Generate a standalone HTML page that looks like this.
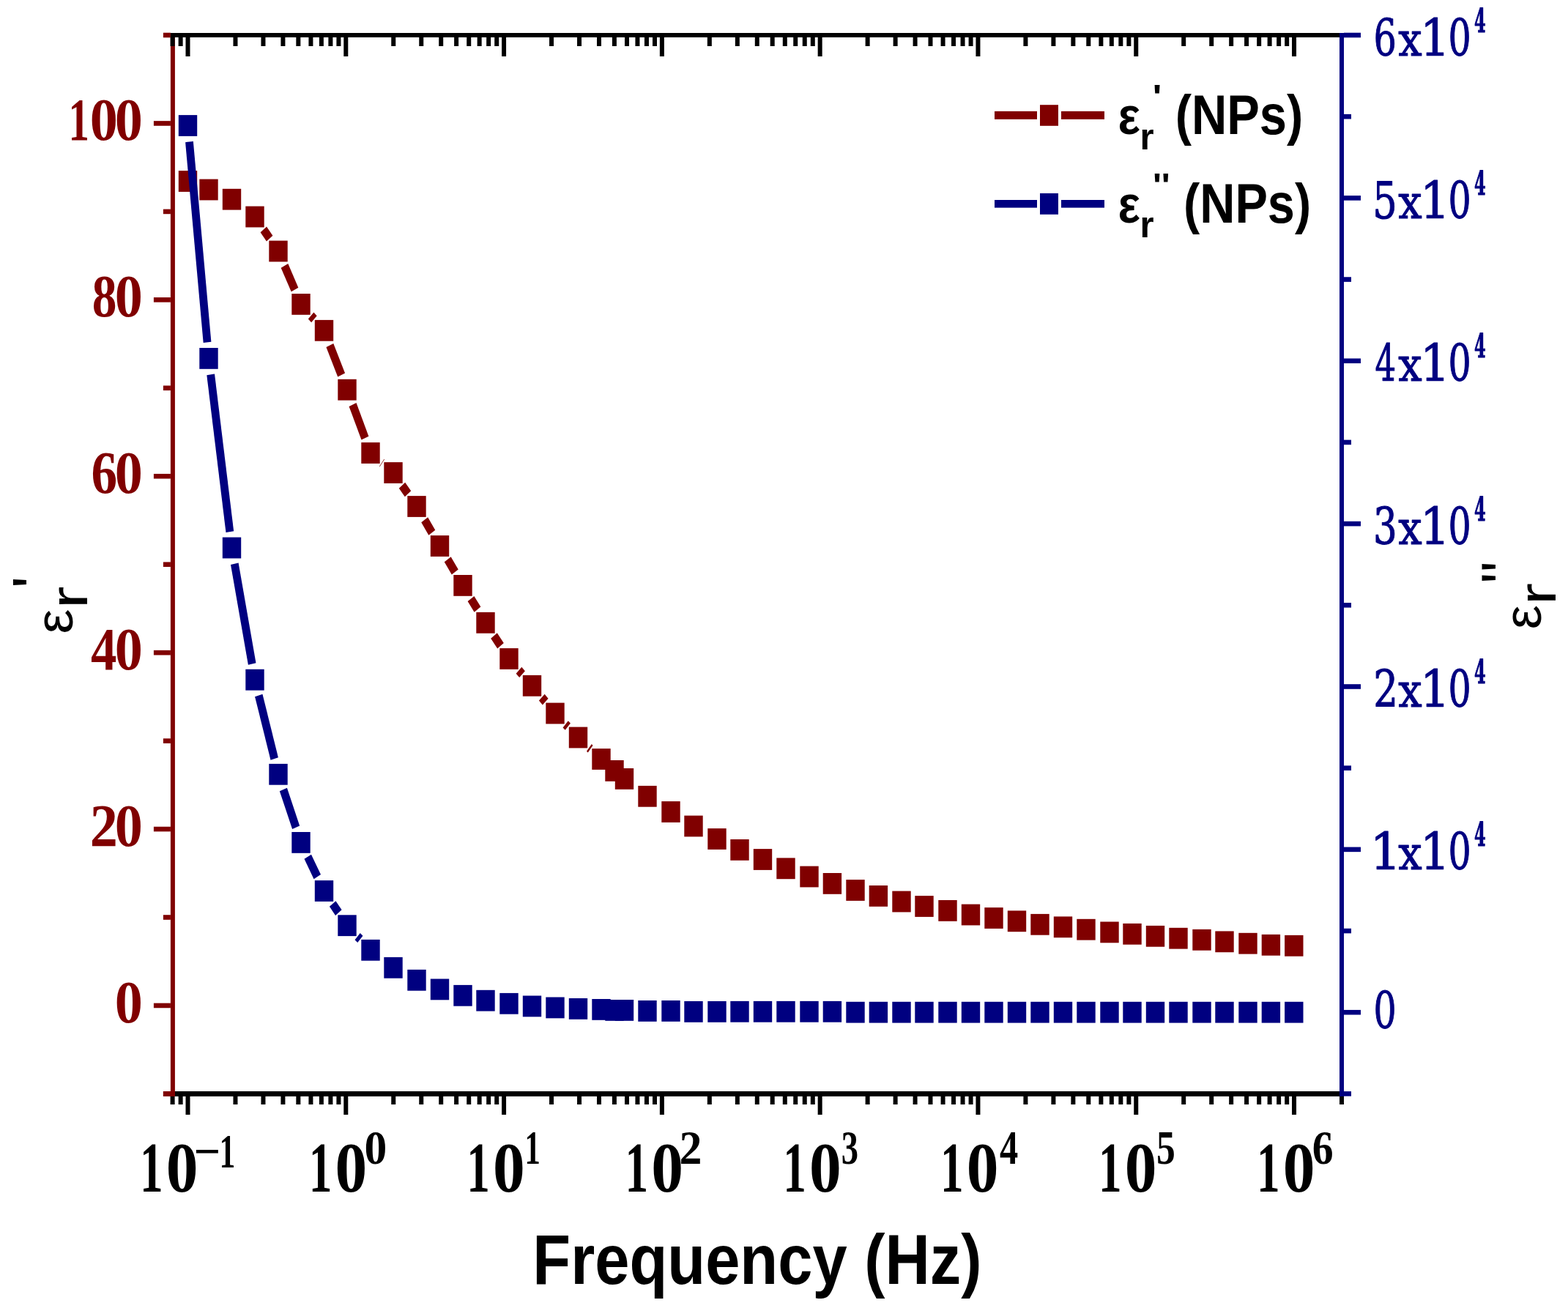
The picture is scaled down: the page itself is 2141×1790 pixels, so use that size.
<!DOCTYPE html>
<html><head><meta charset="utf-8"><title>Dielectric constant vs frequency</title>
<style>html,body{margin:0;padding:0;background:#fff;overflow:hidden;}svg{display:block;}</style></head>
<body>
<svg width="2141" height="1790" viewBox="0 0 2141 1790">
<rect x="0" y="0" width="2141" height="1790" fill="#fff"/>
<polygon points="355.60,317.27 363.92,329.50 372.40,321.73 364.08,309.50" fill="#800000"/>
<polygon points="383.66,365.63 397.67,398.34 407.34,392.77 393.33,360.06" fill="#800000"/>
<polygon points="420.84,435.40 425.09,440.24 432.66,431.30 428.41,426.46" fill="#800000"/>
<polygon points="445.44,474.07 461.22,514.59 471.06,509.43 455.28,468.91" fill="#800000"/>
<polygon points="476.59,555.03 493.49,600.62 503.41,595.67 486.51,550.08" fill="#800000"/>
<polygon points="518.03,636.81 518.48,637.21 524.97,627.19 524.52,626.79" fill="#800000"/>
<polygon points="544.79,666.68 552.80,678.19 561.21,670.32 553.20,658.81" fill="#800000"/>
<polygon points="575.23,713.36 585.32,730.66 594.27,723.64 584.18,706.34" fill="#800000"/>
<polygon points="606.75,767.35 616.81,784.58 625.75,777.55 615.69,760.32" fill="#800000"/>
<polygon points="638.61,821.11 647.57,835.82 656.39,828.59 647.43,813.88" fill="#800000"/>
<polygon points="670.19,871.76 679.19,885.59 687.81,878.04 678.81,864.21" fill="#800000"/>
<polygon points="704.63,919.64 709.21,924.99 716.87,916.16 712.29,910.81" fill="#800000"/>
<polygon points="735.92,956.57 740.83,962.45 748.58,953.73 743.67,947.85" fill="#800000"/>
<polygon points="768.56,993.50 771.71,996.80 778.94,987.50 775.79,984.20" fill="#800000"/>
<polygon points="800.97,1025.79 802.75,1027.46 809.53,1017.71 807.75,1016.04" fill="#800000"/>
<rect x="243.80" y="233.10" width="25.40" height="28.80" fill="#800000"/>
<rect x="272.30" y="244.60" width="25.40" height="28.80" fill="#800000"/>
<rect x="303.80" y="257.80" width="25.40" height="28.80" fill="#800000"/>
<rect x="335.30" y="281.60" width="25.40" height="28.80" fill="#800000"/>
<rect x="367.30" y="328.60" width="25.40" height="28.80" fill="#800000"/>
<rect x="398.30" y="401.00" width="25.40" height="28.80" fill="#800000"/>
<rect x="429.80" y="436.90" width="25.40" height="28.80" fill="#800000"/>
<rect x="461.30" y="517.80" width="25.40" height="28.80" fill="#800000"/>
<rect x="493.30" y="604.10" width="25.40" height="28.80" fill="#800000"/>
<rect x="524.30" y="631.10" width="25.40" height="28.80" fill="#800000"/>
<rect x="556.30" y="677.10" width="25.40" height="28.80" fill="#800000"/>
<rect x="587.80" y="731.10" width="25.40" height="28.80" fill="#800000"/>
<rect x="619.30" y="785.00" width="25.40" height="28.80" fill="#800000"/>
<rect x="650.30" y="835.90" width="25.40" height="28.80" fill="#800000"/>
<rect x="682.30" y="885.10" width="25.40" height="28.80" fill="#800000"/>
<rect x="713.80" y="921.90" width="25.40" height="28.80" fill="#800000"/>
<rect x="745.30" y="959.60" width="25.40" height="28.80" fill="#800000"/>
<rect x="776.80" y="992.60" width="25.40" height="28.80" fill="#800000"/>
<rect x="808.30" y="1022.10" width="25.40" height="28.80" fill="#800000"/>
<rect x="826.30" y="1038.00" width="25.40" height="28.80" fill="#800000"/>
<rect x="839.80" y="1049.00" width="25.40" height="28.80" fill="#800000"/>
<rect x="871.30" y="1072.90" width="25.40" height="28.80" fill="#800000"/>
<rect x="903.30" y="1094.10" width="25.40" height="28.80" fill="#800000"/>
<rect x="934.30" y="1113.60" width="25.40" height="28.80" fill="#800000"/>
<rect x="966.30" y="1131.10" width="25.40" height="28.80" fill="#800000"/>
<rect x="997.30" y="1146.00" width="25.40" height="28.80" fill="#800000"/>
<rect x="1028.80" y="1159.10" width="25.40" height="28.80" fill="#800000"/>
<rect x="1060.30" y="1171.40" width="25.40" height="28.80" fill="#800000"/>
<rect x="1092.30" y="1182.60" width="25.40" height="28.80" fill="#800000"/>
<rect x="1123.70" y="1192.00" width="25.40" height="28.80" fill="#800000"/>
<rect x="1155.30" y="1201.10" width="25.40" height="28.80" fill="#800000"/>
<rect x="1186.70" y="1209.00" width="25.40" height="28.80" fill="#800000"/>
<rect x="1218.30" y="1216.60" width="25.40" height="28.80" fill="#800000"/>
<rect x="1249.30" y="1223.10" width="25.40" height="28.80" fill="#800000"/>
<rect x="1281.30" y="1229.00" width="25.40" height="28.80" fill="#800000"/>
<rect x="1312.80" y="1234.60" width="25.40" height="28.80" fill="#800000"/>
<rect x="1344.30" y="1239.10" width="25.40" height="28.80" fill="#800000"/>
<rect x="1375.80" y="1243.40" width="25.40" height="28.80" fill="#800000"/>
<rect x="1407.30" y="1247.90" width="25.40" height="28.80" fill="#800000"/>
<rect x="1438.80" y="1251.40" width="25.40" height="28.80" fill="#800000"/>
<rect x="1470.30" y="1254.80" width="25.40" height="28.80" fill="#800000"/>
<rect x="1502.30" y="1258.50" width="25.40" height="28.80" fill="#800000"/>
<rect x="1533.30" y="1260.90" width="25.40" height="28.80" fill="#800000"/>
<rect x="1564.80" y="1263.90" width="25.40" height="28.80" fill="#800000"/>
<rect x="1596.30" y="1266.80" width="25.40" height="28.80" fill="#800000"/>
<rect x="1628.30" y="1268.90" width="25.40" height="28.80" fill="#800000"/>
<rect x="1659.30" y="1271.40" width="25.40" height="28.80" fill="#800000"/>
<rect x="1691.30" y="1273.80" width="25.40" height="28.80" fill="#800000"/>
<rect x="1722.70" y="1275.90" width="25.40" height="28.80" fill="#800000"/>
<rect x="1754.10" y="1276.90" width="25.40" height="28.80" fill="#800000"/>
<polygon points="253.10,194.19 277.65,468.01 288.40,466.71 263.85,192.89" fill="#000080"/>
<polygon points="282.33,512.21 308.48,726.94 319.17,725.19 293.02,510.46" fill="#000080"/>
<polygon points="315.00,770.96 338.91,907.73 349.50,905.24 325.59,768.47" fill="#000080"/>
<polygon points="348.09,951.22 369.53,1037.74 379.91,1034.28 358.47,947.76" fill="#000080"/>
<polygon points="381.84,1080.22 399.08,1131.99 409.16,1127.48 391.92,1075.71" fill="#000080"/>
<polygon points="415.51,1172.82 428.53,1200.14 437.99,1194.08 424.97,1166.76" fill="#000080"/>
<polygon points="449.92,1237.85 458.04,1250.01 466.58,1242.35 458.46,1230.19" fill="#000080"/>
<polygon points="484.54,1283.21 488.22,1287.08 495.46,1277.79 491.78,1273.92" fill="#000080"/>
<rect x="243.80" y="157.10" width="25.40" height="28.80" fill="#000080"/>
<rect x="272.30" y="475.00" width="25.40" height="28.80" fill="#000080"/>
<rect x="303.80" y="733.60" width="25.40" height="28.80" fill="#000080"/>
<rect x="335.30" y="913.80" width="25.40" height="28.80" fill="#000080"/>
<rect x="367.30" y="1042.90" width="25.40" height="28.80" fill="#000080"/>
<rect x="398.30" y="1136.00" width="25.40" height="28.80" fill="#000080"/>
<rect x="429.80" y="1202.10" width="25.40" height="28.80" fill="#000080"/>
<rect x="461.30" y="1249.30" width="25.40" height="28.80" fill="#000080"/>
<rect x="493.30" y="1282.90" width="25.40" height="28.80" fill="#000080"/>
<rect x="524.30" y="1306.90" width="25.40" height="28.80" fill="#000080"/>
<rect x="556.30" y="1323.90" width="25.40" height="28.80" fill="#000080"/>
<rect x="587.80" y="1336.50" width="25.40" height="28.80" fill="#000080"/>
<rect x="619.30" y="1344.90" width="25.40" height="28.80" fill="#000080"/>
<rect x="650.30" y="1351.80" width="25.40" height="28.80" fill="#000080"/>
<rect x="682.30" y="1355.90" width="25.40" height="28.80" fill="#000080"/>
<rect x="713.80" y="1359.50" width="25.40" height="28.80" fill="#000080"/>
<rect x="745.30" y="1361.50" width="25.40" height="28.80" fill="#000080"/>
<rect x="776.80" y="1363.00" width="25.40" height="28.80" fill="#000080"/>
<rect x="808.30" y="1364.00" width="25.40" height="28.80" fill="#000080"/>
<rect x="826.30" y="1365.00" width="25.40" height="28.80" fill="#000080"/>
<rect x="839.80" y="1365.00" width="25.40" height="28.80" fill="#000080"/>
<rect x="871.30" y="1366.00" width="25.40" height="28.80" fill="#000080"/>
<rect x="903.30" y="1366.00" width="25.40" height="28.80" fill="#000080"/>
<rect x="934.30" y="1367.00" width="25.40" height="28.80" fill="#000080"/>
<rect x="966.30" y="1367.00" width="25.40" height="28.80" fill="#000080"/>
<rect x="997.30" y="1366.90" width="25.40" height="28.80" fill="#000080"/>
<rect x="1028.80" y="1366.90" width="25.40" height="28.80" fill="#000080"/>
<rect x="1060.30" y="1366.90" width="25.40" height="28.80" fill="#000080"/>
<rect x="1092.30" y="1366.90" width="25.40" height="28.80" fill="#000080"/>
<rect x="1123.70" y="1366.90" width="25.40" height="28.80" fill="#000080"/>
<rect x="1155.30" y="1367.80" width="25.40" height="28.80" fill="#000080"/>
<rect x="1186.70" y="1367.80" width="25.40" height="28.80" fill="#000080"/>
<rect x="1218.30" y="1367.80" width="25.40" height="28.80" fill="#000080"/>
<rect x="1249.30" y="1367.80" width="25.40" height="28.80" fill="#000080"/>
<rect x="1281.30" y="1367.80" width="25.40" height="28.80" fill="#000080"/>
<rect x="1312.80" y="1367.80" width="25.40" height="28.80" fill="#000080"/>
<rect x="1344.30" y="1367.80" width="25.40" height="28.80" fill="#000080"/>
<rect x="1375.80" y="1367.80" width="25.40" height="28.80" fill="#000080"/>
<rect x="1407.30" y="1367.80" width="25.40" height="28.80" fill="#000080"/>
<rect x="1438.80" y="1367.80" width="25.40" height="28.80" fill="#000080"/>
<rect x="1470.30" y="1367.80" width="25.40" height="28.80" fill="#000080"/>
<rect x="1502.30" y="1367.80" width="25.40" height="28.80" fill="#000080"/>
<rect x="1533.30" y="1367.80" width="25.40" height="28.80" fill="#000080"/>
<rect x="1564.80" y="1367.80" width="25.40" height="28.80" fill="#000080"/>
<rect x="1596.30" y="1367.80" width="25.40" height="28.80" fill="#000080"/>
<rect x="1628.30" y="1367.80" width="25.40" height="28.80" fill="#000080"/>
<rect x="1659.30" y="1367.80" width="25.40" height="28.80" fill="#000080"/>
<rect x="1691.30" y="1367.80" width="25.40" height="28.80" fill="#000080"/>
<rect x="1722.70" y="1367.80" width="25.40" height="28.80" fill="#000080"/>
<rect x="1754.10" y="1367.80" width="25.40" height="28.80" fill="#000080"/>
<rect x="232.90" y="45.00" width="6.00" height="1452.00" fill="#800000"/>
<rect x="222.90" y="1490.10" width="10.00" height="6.60" fill="#800000"/>
<rect x="209.90" y="1369.65" width="23.00" height="6.60" fill="#800000"/>
<rect x="222.90" y="1249.20" width="10.00" height="6.60" fill="#800000"/>
<rect x="209.90" y="1128.75" width="23.00" height="6.60" fill="#800000"/>
<rect x="222.90" y="1008.30" width="10.00" height="6.60" fill="#800000"/>
<rect x="209.90" y="887.85" width="23.00" height="6.60" fill="#800000"/>
<rect x="222.90" y="767.40" width="10.00" height="6.60" fill="#800000"/>
<rect x="209.90" y="646.95" width="23.00" height="6.60" fill="#800000"/>
<rect x="222.90" y="526.50" width="10.00" height="6.60" fill="#800000"/>
<rect x="209.90" y="406.05" width="23.00" height="6.60" fill="#800000"/>
<rect x="222.90" y="285.60" width="10.00" height="6.60" fill="#800000"/>
<rect x="209.90" y="165.15" width="23.00" height="6.60" fill="#800000"/>
<rect x="222.90" y="44.70" width="10.00" height="6.60" fill="#800000"/>
<rect x="1835.00" y="1490.10" width="10.00" height="6.60" fill="#000080"/>
<rect x="1835.00" y="1378.92" width="23.00" height="6.60" fill="#000080"/>
<rect x="1835.00" y="1267.73" width="10.00" height="6.60" fill="#000080"/>
<rect x="1835.00" y="1156.55" width="23.00" height="6.60" fill="#000080"/>
<rect x="1835.00" y="1045.36" width="10.00" height="6.60" fill="#000080"/>
<rect x="1835.00" y="934.18" width="23.00" height="6.60" fill="#000080"/>
<rect x="1835.00" y="822.99" width="10.00" height="6.60" fill="#000080"/>
<rect x="1835.00" y="711.81" width="23.00" height="6.60" fill="#000080"/>
<rect x="1835.00" y="600.62" width="10.00" height="6.60" fill="#000080"/>
<rect x="1835.00" y="489.44" width="23.00" height="6.60" fill="#000080"/>
<rect x="1835.00" y="378.25" width="10.00" height="6.60" fill="#000080"/>
<rect x="1835.00" y="267.07" width="23.00" height="6.60" fill="#000080"/>
<rect x="1835.00" y="155.88" width="10.00" height="6.60" fill="#000080"/>
<rect x="1835.00" y="44.70" width="23.00" height="6.60" fill="#000080"/>
<rect x="232.90" y="45.00" width="1596.10" height="6.00" fill="#000000"/>
<rect x="238.90" y="1490.00" width="1596.10" height="7.00" fill="#000000"/>
<rect x="232.59" y="1497.00" width="6.00" height="11.00" fill="#000000"/>
<rect x="232.59" y="51.00" width="6.00" height="12.00" fill="#000000"/>
<rect x="243.63" y="1497.00" width="6.00" height="11.00" fill="#000000"/>
<rect x="243.63" y="51.00" width="6.00" height="12.00" fill="#000000"/>
<rect x="253.50" y="1497.00" width="6.00" height="25.00" fill="#000000"/>
<rect x="253.50" y="51.00" width="6.00" height="26.00" fill="#000000"/>
<rect x="318.46" y="1497.00" width="6.00" height="11.00" fill="#000000"/>
<rect x="318.46" y="51.00" width="6.00" height="12.00" fill="#000000"/>
<rect x="356.46" y="1497.00" width="6.00" height="11.00" fill="#000000"/>
<rect x="356.46" y="51.00" width="6.00" height="12.00" fill="#000000"/>
<rect x="383.42" y="1497.00" width="6.00" height="11.00" fill="#000000"/>
<rect x="383.42" y="51.00" width="6.00" height="12.00" fill="#000000"/>
<rect x="404.33" y="1497.00" width="6.00" height="11.00" fill="#000000"/>
<rect x="404.33" y="51.00" width="6.00" height="12.00" fill="#000000"/>
<rect x="421.42" y="1497.00" width="6.00" height="11.00" fill="#000000"/>
<rect x="421.42" y="51.00" width="6.00" height="12.00" fill="#000000"/>
<rect x="435.86" y="1497.00" width="6.00" height="11.00" fill="#000000"/>
<rect x="435.86" y="51.00" width="6.00" height="12.00" fill="#000000"/>
<rect x="448.38" y="1497.00" width="6.00" height="11.00" fill="#000000"/>
<rect x="448.38" y="51.00" width="6.00" height="12.00" fill="#000000"/>
<rect x="459.42" y="1497.00" width="6.00" height="11.00" fill="#000000"/>
<rect x="459.42" y="51.00" width="6.00" height="12.00" fill="#000000"/>
<rect x="469.29" y="1497.00" width="6.00" height="25.00" fill="#000000"/>
<rect x="469.29" y="51.00" width="6.00" height="26.00" fill="#000000"/>
<rect x="534.25" y="1497.00" width="6.00" height="11.00" fill="#000000"/>
<rect x="534.25" y="51.00" width="6.00" height="12.00" fill="#000000"/>
<rect x="572.25" y="1497.00" width="6.00" height="11.00" fill="#000000"/>
<rect x="572.25" y="51.00" width="6.00" height="12.00" fill="#000000"/>
<rect x="599.21" y="1497.00" width="6.00" height="11.00" fill="#000000"/>
<rect x="599.21" y="51.00" width="6.00" height="12.00" fill="#000000"/>
<rect x="620.12" y="1497.00" width="6.00" height="11.00" fill="#000000"/>
<rect x="620.12" y="51.00" width="6.00" height="12.00" fill="#000000"/>
<rect x="637.21" y="1497.00" width="6.00" height="11.00" fill="#000000"/>
<rect x="637.21" y="51.00" width="6.00" height="12.00" fill="#000000"/>
<rect x="651.65" y="1497.00" width="6.00" height="11.00" fill="#000000"/>
<rect x="651.65" y="51.00" width="6.00" height="12.00" fill="#000000"/>
<rect x="664.17" y="1497.00" width="6.00" height="11.00" fill="#000000"/>
<rect x="664.17" y="51.00" width="6.00" height="12.00" fill="#000000"/>
<rect x="675.21" y="1497.00" width="6.00" height="11.00" fill="#000000"/>
<rect x="675.21" y="51.00" width="6.00" height="12.00" fill="#000000"/>
<rect x="685.08" y="1497.00" width="6.00" height="25.00" fill="#000000"/>
<rect x="685.08" y="51.00" width="6.00" height="26.00" fill="#000000"/>
<rect x="750.04" y="1497.00" width="6.00" height="11.00" fill="#000000"/>
<rect x="750.04" y="51.00" width="6.00" height="12.00" fill="#000000"/>
<rect x="788.04" y="1497.00" width="6.00" height="11.00" fill="#000000"/>
<rect x="788.04" y="51.00" width="6.00" height="12.00" fill="#000000"/>
<rect x="815.00" y="1497.00" width="6.00" height="11.00" fill="#000000"/>
<rect x="815.00" y="51.00" width="6.00" height="12.00" fill="#000000"/>
<rect x="835.91" y="1497.00" width="6.00" height="11.00" fill="#000000"/>
<rect x="835.91" y="51.00" width="6.00" height="12.00" fill="#000000"/>
<rect x="853.00" y="1497.00" width="6.00" height="11.00" fill="#000000"/>
<rect x="853.00" y="51.00" width="6.00" height="12.00" fill="#000000"/>
<rect x="867.44" y="1497.00" width="6.00" height="11.00" fill="#000000"/>
<rect x="867.44" y="51.00" width="6.00" height="12.00" fill="#000000"/>
<rect x="879.96" y="1497.00" width="6.00" height="11.00" fill="#000000"/>
<rect x="879.96" y="51.00" width="6.00" height="12.00" fill="#000000"/>
<rect x="891.00" y="1497.00" width="6.00" height="11.00" fill="#000000"/>
<rect x="891.00" y="51.00" width="6.00" height="12.00" fill="#000000"/>
<rect x="900.87" y="1497.00" width="6.00" height="25.00" fill="#000000"/>
<rect x="900.87" y="51.00" width="6.00" height="26.00" fill="#000000"/>
<rect x="965.83" y="1497.00" width="6.00" height="11.00" fill="#000000"/>
<rect x="965.83" y="51.00" width="6.00" height="12.00" fill="#000000"/>
<rect x="1003.83" y="1497.00" width="6.00" height="11.00" fill="#000000"/>
<rect x="1003.83" y="51.00" width="6.00" height="12.00" fill="#000000"/>
<rect x="1030.79" y="1497.00" width="6.00" height="11.00" fill="#000000"/>
<rect x="1030.79" y="51.00" width="6.00" height="12.00" fill="#000000"/>
<rect x="1051.70" y="1497.00" width="6.00" height="11.00" fill="#000000"/>
<rect x="1051.70" y="51.00" width="6.00" height="12.00" fill="#000000"/>
<rect x="1068.79" y="1497.00" width="6.00" height="11.00" fill="#000000"/>
<rect x="1068.79" y="51.00" width="6.00" height="12.00" fill="#000000"/>
<rect x="1083.23" y="1497.00" width="6.00" height="11.00" fill="#000000"/>
<rect x="1083.23" y="51.00" width="6.00" height="12.00" fill="#000000"/>
<rect x="1095.75" y="1497.00" width="6.00" height="11.00" fill="#000000"/>
<rect x="1095.75" y="51.00" width="6.00" height="12.00" fill="#000000"/>
<rect x="1106.79" y="1497.00" width="6.00" height="11.00" fill="#000000"/>
<rect x="1106.79" y="51.00" width="6.00" height="12.00" fill="#000000"/>
<rect x="1116.66" y="1497.00" width="6.00" height="25.00" fill="#000000"/>
<rect x="1116.66" y="51.00" width="6.00" height="26.00" fill="#000000"/>
<rect x="1181.62" y="1497.00" width="6.00" height="11.00" fill="#000000"/>
<rect x="1181.62" y="51.00" width="6.00" height="12.00" fill="#000000"/>
<rect x="1219.62" y="1497.00" width="6.00" height="11.00" fill="#000000"/>
<rect x="1219.62" y="51.00" width="6.00" height="12.00" fill="#000000"/>
<rect x="1246.58" y="1497.00" width="6.00" height="11.00" fill="#000000"/>
<rect x="1246.58" y="51.00" width="6.00" height="12.00" fill="#000000"/>
<rect x="1267.49" y="1497.00" width="6.00" height="11.00" fill="#000000"/>
<rect x="1267.49" y="51.00" width="6.00" height="12.00" fill="#000000"/>
<rect x="1284.58" y="1497.00" width="6.00" height="11.00" fill="#000000"/>
<rect x="1284.58" y="51.00" width="6.00" height="12.00" fill="#000000"/>
<rect x="1299.02" y="1497.00" width="6.00" height="11.00" fill="#000000"/>
<rect x="1299.02" y="51.00" width="6.00" height="12.00" fill="#000000"/>
<rect x="1311.54" y="1497.00" width="6.00" height="11.00" fill="#000000"/>
<rect x="1311.54" y="51.00" width="6.00" height="12.00" fill="#000000"/>
<rect x="1322.58" y="1497.00" width="6.00" height="11.00" fill="#000000"/>
<rect x="1322.58" y="51.00" width="6.00" height="12.00" fill="#000000"/>
<rect x="1332.45" y="1497.00" width="6.00" height="25.00" fill="#000000"/>
<rect x="1332.45" y="51.00" width="6.00" height="26.00" fill="#000000"/>
<rect x="1397.41" y="1497.00" width="6.00" height="11.00" fill="#000000"/>
<rect x="1397.41" y="51.00" width="6.00" height="12.00" fill="#000000"/>
<rect x="1435.41" y="1497.00" width="6.00" height="11.00" fill="#000000"/>
<rect x="1435.41" y="51.00" width="6.00" height="12.00" fill="#000000"/>
<rect x="1462.37" y="1497.00" width="6.00" height="11.00" fill="#000000"/>
<rect x="1462.37" y="51.00" width="6.00" height="12.00" fill="#000000"/>
<rect x="1483.28" y="1497.00" width="6.00" height="11.00" fill="#000000"/>
<rect x="1483.28" y="51.00" width="6.00" height="12.00" fill="#000000"/>
<rect x="1500.37" y="1497.00" width="6.00" height="11.00" fill="#000000"/>
<rect x="1500.37" y="51.00" width="6.00" height="12.00" fill="#000000"/>
<rect x="1514.81" y="1497.00" width="6.00" height="11.00" fill="#000000"/>
<rect x="1514.81" y="51.00" width="6.00" height="12.00" fill="#000000"/>
<rect x="1527.33" y="1497.00" width="6.00" height="11.00" fill="#000000"/>
<rect x="1527.33" y="51.00" width="6.00" height="12.00" fill="#000000"/>
<rect x="1538.37" y="1497.00" width="6.00" height="11.00" fill="#000000"/>
<rect x="1538.37" y="51.00" width="6.00" height="12.00" fill="#000000"/>
<rect x="1548.24" y="1497.00" width="6.00" height="25.00" fill="#000000"/>
<rect x="1548.24" y="51.00" width="6.00" height="26.00" fill="#000000"/>
<rect x="1613.20" y="1497.00" width="6.00" height="11.00" fill="#000000"/>
<rect x="1613.20" y="51.00" width="6.00" height="12.00" fill="#000000"/>
<rect x="1651.20" y="1497.00" width="6.00" height="11.00" fill="#000000"/>
<rect x="1651.20" y="51.00" width="6.00" height="12.00" fill="#000000"/>
<rect x="1678.16" y="1497.00" width="6.00" height="11.00" fill="#000000"/>
<rect x="1678.16" y="51.00" width="6.00" height="12.00" fill="#000000"/>
<rect x="1699.07" y="1497.00" width="6.00" height="11.00" fill="#000000"/>
<rect x="1699.07" y="51.00" width="6.00" height="12.00" fill="#000000"/>
<rect x="1716.16" y="1497.00" width="6.00" height="11.00" fill="#000000"/>
<rect x="1716.16" y="51.00" width="6.00" height="12.00" fill="#000000"/>
<rect x="1730.60" y="1497.00" width="6.00" height="11.00" fill="#000000"/>
<rect x="1730.60" y="51.00" width="6.00" height="12.00" fill="#000000"/>
<rect x="1743.12" y="1497.00" width="6.00" height="11.00" fill="#000000"/>
<rect x="1743.12" y="51.00" width="6.00" height="12.00" fill="#000000"/>
<rect x="1754.16" y="1497.00" width="6.00" height="11.00" fill="#000000"/>
<rect x="1754.16" y="51.00" width="6.00" height="12.00" fill="#000000"/>
<rect x="1764.03" y="1497.00" width="6.00" height="25.00" fill="#000000"/>
<rect x="1764.03" y="51.00" width="6.00" height="26.00" fill="#000000"/>
<rect x="1828.99" y="1497.00" width="6.00" height="11.00" fill="#000000"/>
<rect x="1828.99" y="51.00" width="6.00" height="12.00" fill="#000000"/>
<rect x="1829.00" y="45.00" width="6.00" height="1452.00" fill="#000080"/>
<rect x="222.90" y="1490.00" width="16.00" height="7.00" fill="#800000"/>
<text transform="matrix(0.76200 0 0 0.81500 0 1395.70)" font-family='"Liberation Serif", serif' font-weight="bold" font-size="100" fill="#800000"><tspan x="205.77">0</tspan></text>
<text transform="matrix(0.76200 0 0 0.81500 0 1154.80)" font-family='"Liberation Serif", serif' font-weight="bold" font-size="100" fill="#800000"><tspan x="161.27">2</tspan><tspan x="205.77">0</tspan></text>
<text transform="matrix(0.76200 0 0 0.81500 0 913.90)" font-family='"Liberation Serif", serif' font-weight="bold" font-size="100" fill="#800000"><tspan x="162.64" textLength="46.43" lengthAdjust="spacingAndGlyphs">4</tspan><tspan x="205.77">0</tspan></text>
<text transform="matrix(0.76200 0 0 0.81500 0 673.00)" font-family='"Liberation Serif", serif' font-weight="bold" font-size="100" fill="#800000"><tspan x="163.34" textLength="46.75" lengthAdjust="spacingAndGlyphs">6</tspan><tspan x="205.77">0</tspan></text>
<text transform="matrix(0.76200 0 0 0.81500 0 432.10)" font-family='"Liberation Serif", serif' font-weight="bold" font-size="100" fill="#800000"><tspan x="164.91" textLength="44.19" lengthAdjust="spacingAndGlyphs">8</tspan><tspan x="205.77">0</tspan></text>
<text transform="matrix(0.76200 0 0 0.81500 0 191.20)" font-family='"Liberation Serif", serif' font-weight="bold" font-size="100" fill="#800000"><tspan x="122.77" textLength="37.25" lengthAdjust="spacingAndGlyphs">1</tspan><tspan x="161.22">0</tspan><tspan x="205.77">0</tspan></text>
<text transform="matrix(0.49017 0 0 0.69811 0 1404.02)" font-family='"DejaVu Serif", serif' font-size="100" fill="#000080" stroke="#000080" stroke-width="1.6" stroke-linejoin="round" vector-effect="non-scaling-stroke"><tspan x="3826.36">0</tspan></text>
<text transform="matrix(0.49017 0 0 0.69811 0 1187.45)" font-family='"DejaVu Serif", serif' font-size="100" fill="#000080" stroke="#000080" stroke-width="1.6" stroke-linejoin="round" vector-effect="non-scaling-stroke"><tspan x="3816.22" textLength="87.21" lengthAdjust="spacingAndGlyphs">1</tspan><tspan x="3895.17" font-size="91.07" textLength="66.10" lengthAdjust="spacingAndGlyphs">x</tspan><tspan x="3955.99" textLength="83.38" lengthAdjust="spacingAndGlyphs">1</tspan><tspan x="4034.14">0</tspan></text>
<text transform="matrix(0.22647 0 0 0.44194 0 1155.45)" font-family='"DejaVu Serif", serif' font-weight="bold" font-size="100" fill="#000080" stroke="#000080" stroke-width="2.2" stroke-linejoin="round" vector-effect="non-scaling-stroke"><tspan x="8888.93">4</tspan></text>
<text transform="matrix(0.49017 0 0 0.69811 0 965.08)" font-family='"DejaVu Serif", serif' font-size="100" fill="#000080" stroke="#000080" stroke-width="1.6" stroke-linejoin="round" vector-effect="non-scaling-stroke"><tspan x="3825.59" textLength="69.01" lengthAdjust="spacingAndGlyphs">2</tspan><tspan x="3895.17" font-size="91.07" textLength="66.10" lengthAdjust="spacingAndGlyphs">x</tspan><tspan x="3955.99" textLength="83.38" lengthAdjust="spacingAndGlyphs">1</tspan><tspan x="4034.14">0</tspan></text>
<text transform="matrix(0.22647 0 0 0.44194 0 933.08)" font-family='"DejaVu Serif", serif' font-weight="bold" font-size="100" fill="#000080" stroke="#000080" stroke-width="2.2" stroke-linejoin="round" vector-effect="non-scaling-stroke"><tspan x="8888.93">4</tspan></text>
<text transform="matrix(0.49017 0 0 0.69811 0 742.71)" font-family='"DejaVu Serif", serif' font-size="100" fill="#000080" stroke="#000080" stroke-width="1.6" stroke-linejoin="round" vector-effect="non-scaling-stroke"><tspan x="3824.96" textLength="66.79" lengthAdjust="spacingAndGlyphs">3</tspan><tspan x="3895.17" font-size="91.07" textLength="66.10" lengthAdjust="spacingAndGlyphs">x</tspan><tspan x="3955.99" textLength="83.38" lengthAdjust="spacingAndGlyphs">1</tspan><tspan x="4034.14">0</tspan></text>
<text transform="matrix(0.22647 0 0 0.44194 0 710.71)" font-family='"DejaVu Serif", serif' font-weight="bold" font-size="100" fill="#000080" stroke="#000080" stroke-width="2.2" stroke-linejoin="round" vector-effect="non-scaling-stroke"><tspan x="8888.93">4</tspan></text>
<text transform="matrix(0.49017 0 0 0.69811 0 520.34)" font-family='"DejaVu Serif", serif' font-size="100" fill="#000080" stroke="#000080" stroke-width="1.6" stroke-linejoin="round" vector-effect="non-scaling-stroke"><tspan x="3830.13" textLength="58.45" lengthAdjust="spacingAndGlyphs">4</tspan><tspan x="3895.17" font-size="91.07" textLength="66.10" lengthAdjust="spacingAndGlyphs">x</tspan><tspan x="3955.99" textLength="83.38" lengthAdjust="spacingAndGlyphs">1</tspan><tspan x="4034.14">0</tspan></text>
<text transform="matrix(0.22647 0 0 0.44194 0 488.34)" font-family='"DejaVu Serif", serif' font-weight="bold" font-size="100" fill="#000080" stroke="#000080" stroke-width="2.2" stroke-linejoin="round" vector-effect="non-scaling-stroke"><tspan x="8888.93">4</tspan></text>
<text transform="matrix(0.49017 0 0 0.69811 0 297.97)" font-family='"DejaVu Serif", serif' font-size="100" fill="#000080" stroke="#000080" stroke-width="1.6" stroke-linejoin="round" vector-effect="non-scaling-stroke"><tspan x="3823.81" textLength="68.44" lengthAdjust="spacingAndGlyphs">5</tspan><tspan x="3895.17" font-size="91.07" textLength="66.10" lengthAdjust="spacingAndGlyphs">x</tspan><tspan x="3955.99" textLength="83.38" lengthAdjust="spacingAndGlyphs">1</tspan><tspan x="4034.14">0</tspan></text>
<text transform="matrix(0.22647 0 0 0.44194 0 265.97)" font-family='"DejaVu Serif", serif' font-weight="bold" font-size="100" fill="#000080" stroke="#000080" stroke-width="2.2" stroke-linejoin="round" vector-effect="non-scaling-stroke"><tspan x="8888.93">4</tspan></text>
<text transform="matrix(0.49017 0 0 0.69811 0 75.60)" font-family='"DejaVu Serif", serif' font-size="100" fill="#000080" stroke="#000080" stroke-width="1.6" stroke-linejoin="round" vector-effect="non-scaling-stroke"><tspan x="3826.21" textLength="64.09" lengthAdjust="spacingAndGlyphs">6</tspan><tspan x="3895.17" font-size="91.07" textLength="66.10" lengthAdjust="spacingAndGlyphs">x</tspan><tspan x="3955.99" textLength="83.38" lengthAdjust="spacingAndGlyphs">1</tspan><tspan x="4034.14">0</tspan></text>
<text transform="matrix(0.22647 0 0 0.44194 0 43.60)" font-family='"DejaVu Serif", serif' font-weight="bold" font-size="100" fill="#000080" stroke="#000080" stroke-width="2.2" stroke-linejoin="round" vector-effect="non-scaling-stroke"><tspan x="8888.93">4</tspan></text>
<text transform="matrix(0.87500 0 0 0.96400 0 1627.00)" font-family='"Liberation Serif", serif' font-weight="bold" font-size="100" fill="#000000"><tspan x="218.21" textLength="36.16" lengthAdjust="spacingAndGlyphs">1</tspan><tspan x="259.06">0</tspan></text>
<text transform="matrix(0.61600 0 0 0.65600 0 1589.30)" font-family='"Liberation Serif", serif' font-weight="bold" font-size="100" fill="#000000"><tspan x="429.54" y="7.62" textLength="59.70" lengthAdjust="spacingAndGlyphs">−</tspan><tspan x="486.23" textLength="35.28" lengthAdjust="spacingAndGlyphs">1</tspan></text>
<text transform="matrix(0.87500 0 0 0.96400 0 1627.00)" font-family='"Liberation Serif", serif' font-weight="bold" font-size="100" fill="#000000"><tspan x="482.09" textLength="36.16" lengthAdjust="spacingAndGlyphs">1</tspan><tspan x="522.94">0</tspan></text>
<text transform="matrix(0.61600 0 0 0.65600 0 1589.30)" font-family='"Liberation Serif", serif' font-weight="bold" font-size="100" fill="#000000"><tspan x="807.72" textLength="49.99" lengthAdjust="spacingAndGlyphs">0</tspan></text>
<text transform="matrix(0.87500 0 0 0.96400 0 1627.00)" font-family='"Liberation Serif", serif' font-weight="bold" font-size="100" fill="#000000"><tspan x="728.27" textLength="36.16" lengthAdjust="spacingAndGlyphs">1</tspan><tspan x="769.11">0</tspan></text>
<text transform="matrix(0.61600 0 0 0.65600 0 1589.30)" font-family='"Liberation Serif", serif' font-weight="bold" font-size="100" fill="#000000"><tspan x="1163.29" textLength="34.61" lengthAdjust="spacingAndGlyphs">1</tspan></text>
<text transform="matrix(0.87500 0 0 0.96400 0 1627.00)" font-family='"Liberation Serif", serif' font-weight="bold" font-size="100" fill="#000000"><tspan x="975.47" textLength="36.16" lengthAdjust="spacingAndGlyphs">1</tspan><tspan x="1016.31">0</tspan></text>
<text transform="matrix(0.61600 0 0 0.65600 0 1589.30)" font-family='"Liberation Serif", serif' font-weight="bold" font-size="100" fill="#000000"><tspan x="1505.52" textLength="50.26" lengthAdjust="spacingAndGlyphs">2</tspan></text>
<text transform="matrix(0.87500 0 0 0.96400 0 1627.00)" font-family='"Liberation Serif", serif' font-weight="bold" font-size="100" fill="#000000"><tspan x="1222.09" textLength="36.16" lengthAdjust="spacingAndGlyphs">1</tspan><tspan x="1262.94">0</tspan></text>
<text transform="matrix(0.61600 0 0 0.65600 0 1589.30)" font-family='"Liberation Serif", serif' font-weight="bold" font-size="100" fill="#000000"><tspan x="1864.70" textLength="37.72" lengthAdjust="spacingAndGlyphs">3</tspan></text>
<text transform="matrix(0.87500 0 0 0.96400 0 1627.00)" font-family='"Liberation Serif", serif' font-weight="bold" font-size="100" fill="#000000"><tspan x="1467.35" textLength="36.16" lengthAdjust="spacingAndGlyphs">1</tspan><tspan x="1508.20">0</tspan></text>
<text transform="matrix(0.61600 0 0 0.65600 0 1589.30)" font-family='"Liberation Serif", serif' font-weight="bold" font-size="100" fill="#000000"><tspan x="2215.93" textLength="40.95" lengthAdjust="spacingAndGlyphs">4</tspan></text>
<text transform="matrix(0.87500 0 0 0.96400 0 1627.00)" font-family='"Liberation Serif", serif' font-weight="bold" font-size="100" fill="#000000"><tspan x="1714.21" textLength="36.16" lengthAdjust="spacingAndGlyphs">1</tspan><tspan x="1755.06">0</tspan></text>
<text transform="matrix(0.61600 0 0 0.65600 0 1589.30)" font-family='"Liberation Serif", serif' font-weight="bold" font-size="100" fill="#000000"><tspan x="2563.21" textLength="41.80" lengthAdjust="spacingAndGlyphs">5</tspan></text>
<text transform="matrix(0.87500 0 0 0.96400 0 1627.00)" font-family='"Liberation Serif", serif' font-weight="bold" font-size="100" fill="#000000"><tspan x="1961.07" textLength="36.16" lengthAdjust="spacingAndGlyphs">1</tspan><tspan x="2001.91">0</tspan></text>
<text transform="matrix(0.61600 0 0 0.65600 0 1589.30)" font-family='"Liberation Serif", serif' font-weight="bold" font-size="100" fill="#000000"><tspan x="2908.81" textLength="46.86" lengthAdjust="spacingAndGlyphs">6</tspan></text>
<text transform="matrix(0.84909 0 0 0.96768 727.32 1752.52)" font-family='"Liberation Sans", sans-serif' font-weight="bold" font-size="100" fill="#000000">Frequency (Hz)</text>
<text transform="matrix(0 -0.75908 0.73012 0 99.29 865.39)" font-family='"Liberation Sans", sans-serif' font-size="100" fill="#000000">ε</text>
<text transform="matrix(0 -0.91600 0.71922 0 119.20 830.98)" font-family='"Liberation Sans", sans-serif' font-size="100" fill="#000000">r</text>
<text transform="matrix(0 -0.89043 0.83214 0 75.25 803.52)" font-family='"Liberation Sans", sans-serif' font-size="100" fill="#000000">&#39;</text>
<text transform="matrix(0 -0.74380 0.73012 0 2104.29 859.34)" font-family='"Liberation Sans", sans-serif' font-size="100" fill="#000000">ε</text>
<text transform="matrix(0 -0.90000 0.71550 0 2124.00 825.98)" font-family='"Liberation Sans", sans-serif' font-size="100" fill="#000000">r</text>
<text transform="matrix(0 -0.81208 0.85988 0 2081.96 797.12)" font-family='"Liberation Sans", sans-serif' font-size="100" fill="#000000">&#39;&#39;</text>
<rect x="1358.00" y="151.90" width="58.00" height="11.00" fill="#800000"/>
<rect x="1449.00" y="151.90" width="59.00" height="11.00" fill="#800000"/>
<rect x="1420.00" y="143.20" width="25.00" height="28.60" fill="#800000"/>
<text transform="matrix(0.64148 0 0 0.71917 1526.39 182.50)" font-family='"Liberation Sans", sans-serif' font-weight="bold" font-size="100" fill="#000000">ε</text>
<text transform="matrix(0.49009 0 0 0.50689 1556.47 204.00)" font-family='"Liberation Sans", sans-serif' font-weight="bold" font-size="100" fill="#000000">r</text>
<text transform="matrix(0.52706 0 0 0.46491 1573.79 148.39)" font-family='"Liberation Sans", sans-serif' font-weight="bold" font-size="100" fill="#000000">&#39;</text>
<text transform="matrix(0.66886 0 0 0.76170 1604.67 183.19)" font-family='"Liberation Sans", sans-serif' font-weight="bold" font-size="100" fill="#000000">(NPs)</text>
<rect x="1358.00" y="273.00" width="58.00" height="10.60" fill="#000080"/>
<rect x="1449.00" y="273.00" width="59.00" height="10.60" fill="#000080"/>
<rect x="1420.00" y="263.90" width="25.00" height="28.90" fill="#000080"/>
<text transform="matrix(0.64148 0 0 0.71917 1526.39 304.10)" font-family='"Liberation Sans", sans-serif' font-weight="bold" font-size="100" fill="#000000">ε</text>
<text transform="matrix(0.49009 0 0 0.49947 1556.47 323.90)" font-family='"Liberation Sans", sans-serif' font-weight="bold" font-size="100" fill="#000000">r</text>
<text transform="matrix(0.50188 0 0 0.45689 1573.93 269.03)" font-family='"Liberation Sans", sans-serif' font-weight="bold" font-size="100" fill="#000000">&#39;&#39;</text>
<text transform="matrix(0.66727 0 0 0.75204 1615.98 304.09)" font-family='"Liberation Sans", sans-serif' font-weight="bold" font-size="100" fill="#000000">(NPs)</text>
</svg>
</body></html>
